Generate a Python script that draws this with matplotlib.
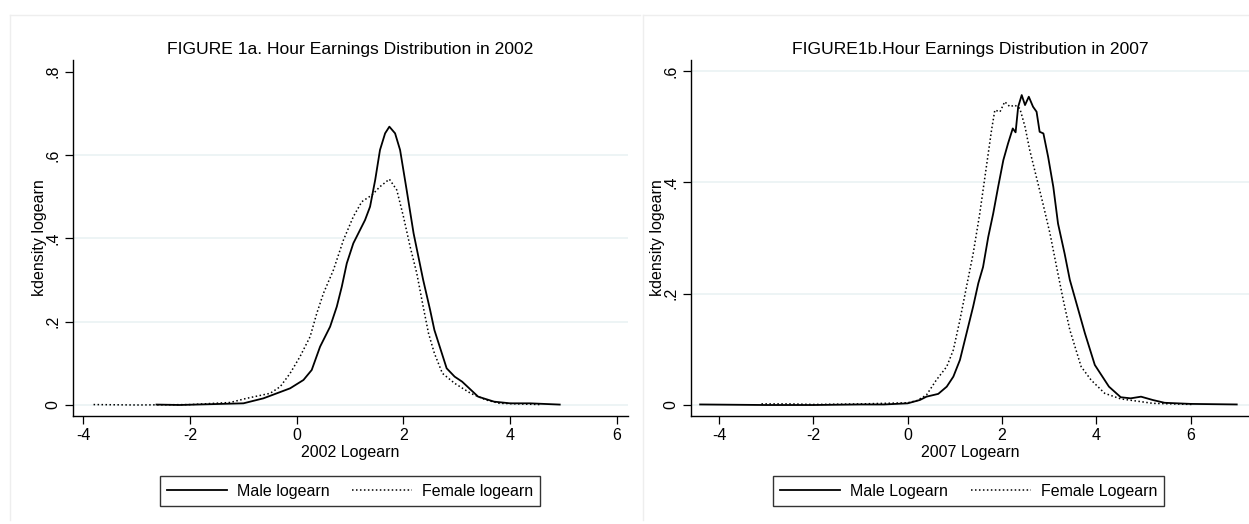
import matplotlib
matplotlib.use("Agg")
import matplotlib.pyplot as plt
from matplotlib.lines import Line2D

plt.rcParams['font.family'] = ['Liberation Sans', 'DejaVu Sans']

# ---- data: Figure 1a (2002) ----
male02_x = [-2.63, -2.2, -1.6, -1.0, -0.625, -0.375, -0.125, 0.125, 0.28, 0.437, 0.625, 0.75, 0.844,
            0.9375, 1.06, 1.28, 1.374, 1.47, 1.56, 1.656, 1.736, 1.843, 1.937, 2.06, 2.19, 2.37, 2.5,
            2.58, 2.81, 2.96, 3.1, 3.4, 3.7, 4.0, 4.37, 4.93]
male02_y = [0.001, 0.0, 0.002, 0.004, 0.016, 0.028, 0.040, 0.060, 0.084, 0.14, 0.188, 0.236, 0.284,
            0.340, 0.388, 0.444, 0.476, 0.540, 0.612, 0.652, 0.668, 0.652, 0.612, 0.516, 0.412, 0.30, 0.228,
            0.18, 0.088, 0.068, 0.056, 0.02, 0.008, 0.004, 0.004, 0.001]
female02_x = [-3.81, -3.0, -2.0, -1.25, -0.94, -0.5, -0.31, -0.125, 0.06, 0.25, 0.375, 0.5, 0.687,
              0.875, 1.06, 1.22, 1.41, 1.56, 1.736, 1.875, 2.0, 2.125, 2.25, 2.37, 2.47, 2.58, 2.73,
              2.96, 3.26, 3.55, 3.8, 4.56]
female02_y = [0.001, 0.0, 0.001, 0.006, 0.016, 0.028, 0.044, 0.076, 0.116, 0.164, 0.22, 0.268, 0.324,
              0.396, 0.452, 0.488, 0.504, 0.524, 0.542, 0.516, 0.452, 0.38, 0.316, 0.236, 0.172, 0.124, 0.076,
              0.052, 0.028, 0.012, 0.004, 0.001]

# ---- data: Figure 1b (2007) ----
male07_x = [-4.4, -3.0, -2.0, -1.0, -0.5, 0.0, 0.26, 0.4, 0.65, 0.83, 0.97, 1.11, 1.25, 1.39, 1.5, 1.6,
            1.71, 1.815, 1.92, 2.03, 2.13, 2.23, 2.29, 2.345, 2.42, 2.49, 2.57, 2.66, 2.735, 2.8, 2.88,
            2.98, 3.09, 3.19, 3.33, 3.44, 3.76, 3.97, 4.27, 4.52, 4.73, 4.95, 5.2, 5.45, 6.0, 6.98]
male07_y = [0.001, 0.0, 0.0, 0.001, 0.001, 0.003, 0.009, 0.015, 0.02, 0.033, 0.051, 0.081, 0.129, 0.177,
            0.219, 0.248, 0.302, 0.344, 0.392, 0.44, 0.47, 0.497, 0.49, 0.536, 0.557, 0.539, 0.554, 0.536,
            0.527, 0.491, 0.488, 0.446, 0.392, 0.326, 0.272, 0.225, 0.129, 0.072, 0.033, 0.014, 0.012,
            0.015, 0.009, 0.004, 0.002, 0.001]
female07_x = [-3.1, -2.5, -2.0, -1.0, -0.5, 0.0, 0.2, 0.4, 0.61, 0.83, 0.97, 1.11, 1.25, 1.39, 1.53, 1.67,
              1.78, 1.85, 1.96, 2.06, 2.17, 2.27, 2.38, 2.49, 2.59, 2.73, 2.87, 3.02, 3.16, 3.30, 3.44,
              3.68, 3.89, 4.18, 4.52, 4.95, 5.2, 6.05]
female07_y = [0.002, 0.002, 0.001, 0.002, 0.003, 0.004, 0.008, 0.018, 0.045, 0.069, 0.099, 0.153, 0.213,
              0.272, 0.344, 0.428, 0.494, 0.530, 0.527, 0.545, 0.536, 0.539, 0.533, 0.5, 0.458, 0.41, 0.362,
              0.308, 0.248, 0.189, 0.135, 0.069, 0.045, 0.021, 0.011, 0.006, 0.003, 0.001]

xticks = [-4, -2, 0, 2, 4, 6]
yticks_a = [0, 0.2, 0.4, 0.6, 0.8]
ytick_labels_a = ['0', '.2', '.4', '.6', '.8']
yticks_b = [0, 0.2, 0.4, 0.6]
ytick_labels_b = ['0', '.2', '.4', '.6']

W, H = 1249, 524
fig = plt.figure(figsize=(W / 100, H / 100), dpi=100)
fig.patch.set_facecolor('white')

def px_axes(x0, y0, x1, y1):
    return fig.add_axes([x0 / W, 1 - y1 / H, (x1 - x0) / W, (y1 - y0) / H])

# faint panel borders (top and left edges)
BORDER = '#eeeeee'
for (bx0, by0, bx1, by1) in [(10, 15, 640, 520), (643, 15, 1249, 520)]:
    fig.add_artist(Line2D([bx0 / W, bx0 / W], [1 - by1 / H, 1 - by0 / H],
                          transform=fig.transFigure, color=BORDER, lw=1))
    fig.add_artist(Line2D([bx0 / W, bx1 / W], [1 - by0 / H, 1 - by0 / H],
                          transform=fig.transFigure, color=BORDER, lw=1))

FS = 11.5
SOLID = dict(color='black', lw=1.3, linestyle='-')
DOT = dict(color='black', lw=1.1, linestyle=(0, (1, 1.6)))

def style(ax, yticks, ylabels, grid_levels, xlim, ylim, xlabel, title):
    ax.set_xlim(*xlim)
    ax.set_ylim(*ylim)
    for v in grid_levels:
        ax.axhline(v, color='#eaf2f3', lw=1.2, zorder=0)
    ax.set_xticks(xticks)
    ax.set_xticklabels([str(t) for t in xticks], fontsize=FS)
    ax.set_yticks(yticks)
    ax.set_yticklabels(ylabels, fontsize=FS, rotation=90, va='center')
    ax.tick_params(axis='both', length=6, width=0.9, color='black', pad=3)
    for s in ['top', 'right']:
        ax.spines[s].set_visible(False)
    for s in ['left', 'bottom']:
        ax.spines[s].set_linewidth(1.0)
    ax.set_xlabel(xlabel, fontsize=FS, labelpad=1)
    ax.set_ylabel('kdensity logearn', fontsize=FS, labelpad=-1)
    ax.set_title(title, fontsize=12.6, pad=4)
    ax.set_facecolor('none')

# Panel a
ax1 = px_axes(73.3, 60, 628, 415.7)
ax1.plot(male02_x, male02_y, **SOLID)
ax1.plot(female02_x, female02_y, **DOT)
style(ax1, yticks_a, ytick_labels_a, [0, 0.2, 0.4, 0.6], (-4.19, 6.21), (-0.0257, 0.828),
      '2002 Logearn', 'FIGURE 1a. Hour Earnings Distribution in 2002')

# Panel b
ax2 = px_axes(690.7, 60, 1249, 415.7)
ax2.plot(male07_x, male07_y, **SOLID)
ax2.plot(female07_x, female07_y, **DOT)
style(ax2, yticks_b, ytick_labels_b, [0, 0.2, 0.4, 0.6], (-4.6, 7.24), (-0.0192, 0.620),
      '2007 Logearn', 'FIGURE1b.Hour Earnings Distribution in 2007')

handles = [Line2D([], [], **SOLID), Line2D([], [], **DOT)]
leg_kw = dict(loc='center', ncol=2, fontsize=FS, frameon=True, fancybox=False,
              handlelength=3.75, handleheight=1.1, handletextpad=0.62, columnspacing=1.45,
              borderpad=0.42, edgecolor='black')
leg1 = fig.legend(handles, ['Male logearn', 'Female logearn'],
                  bbox_to_anchor=(350 / W, 1 - 491 / H), **leg_kw)
leg2 = fig.legend(handles, ['Male Logearn', 'Female Logearn'],
                  bbox_to_anchor=(968.5 / W, 1 - 491 / H), **leg_kw)
for lg in (leg1, leg2):
    lg.get_frame().set_linewidth(1.0)

fig.savefig('out.png', dpi=100, facecolor='white')
